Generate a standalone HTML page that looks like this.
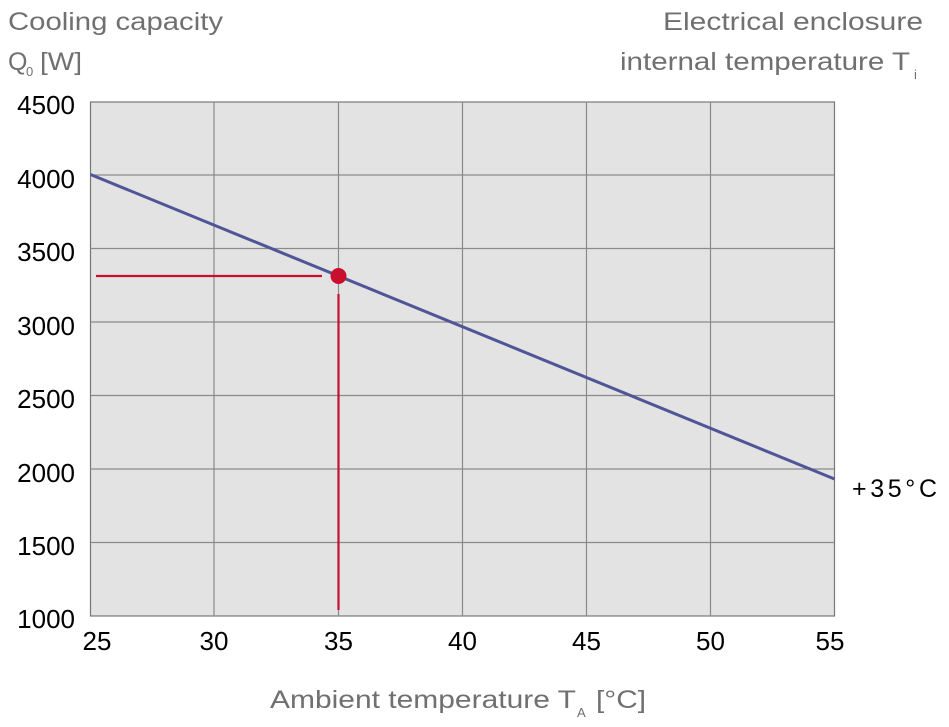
<!DOCTYPE html>
<html><head><style>html,body{margin:0;padding:0;background:#fff;}svg{display:block}</style></head>
<body>
<svg width="949" height="727" xmlns="http://www.w3.org/2000/svg" font-family="Liberation Sans, sans-serif">
<rect x="90.5" y="102" width="744" height="514" fill="#e3e3e3" stroke="#777" stroke-width="1.2"/>
<g stroke="#8a8a8a" stroke-width="1.2">
<line x1="214" y1="102" x2="214" y2="616"/>
<line x1="338.5" y1="102" x2="338.5" y2="616"/>
<line x1="462.5" y1="102" x2="462.5" y2="616"/>
<line x1="586.5" y1="102" x2="586.5" y2="616"/>
<line x1="710.5" y1="102" x2="710.5" y2="616"/>
<line x1="90.5" y1="175" x2="834.5" y2="175"/>
<line x1="90.5" y1="248.5" x2="834.5" y2="248.5"/>
<line x1="90.5" y1="322" x2="834.5" y2="322"/>
<line x1="90.5" y1="395.5" x2="834.5" y2="395.5"/>
<line x1="90.5" y1="469" x2="834.5" y2="469"/>
<line x1="90.5" y1="542.5" x2="834.5" y2="542.5"/>
</g>
<line x1="90.5" y1="174.5" x2="834.5" y2="479" stroke="#4f5596" stroke-width="3"/>
<line x1="96" y1="276" x2="322" y2="276" stroke="#c8102e" stroke-width="2.2"/>
<line x1="338.5" y1="294" x2="338.5" y2="610" stroke="#c8102e" stroke-width="2.2"/>
<circle cx="338.5" cy="276" r="8" fill="#c8102e"/>
<g font-size="26" fill="#000" text-anchor="end">
<text x="75" y="114">4500</text>
<text x="75" y="188">4000</text>
<text x="75" y="261">3500</text>
<text x="75" y="335">3000</text>
<text x="75" y="408">2500</text>
<text x="75" y="482">2000</text>
<text x="75" y="555">1500</text>
<text x="75" y="628">1000</text>
</g>
<g font-size="26" fill="#000" text-anchor="middle">
<text x="97" y="650">25</text>
<text x="214" y="650">30</text>
<text x="338.5" y="650">35</text>
<text x="462.5" y="650">40</text>
<text x="586.5" y="650">45</text>
<text x="710.5" y="650">50</text>
<text x="830" y="650">55</text>
</g>
<text x="852" y="497" font-size="25" fill="#000" textLength="85" lengthAdjust="spacing">+35°C</text>
<g font-size="25" fill="#707070">
<text x="8" y="30" textLength="215" lengthAdjust="spacingAndGlyphs">Cooling capacity</text>
<text x="8" y="70">Q</text><text x="26" y="76" font-size="13">0</text><text x="40" y="70" textLength="42" lengthAdjust="spacingAndGlyphs">[W]</text>
<text x="663" y="30" textLength="260" lengthAdjust="spacingAndGlyphs">Electrical enclosure</text>
<text x="620" y="70" textLength="290" lengthAdjust="spacingAndGlyphs">internal temperature T</text>
<text x="914" y="79" font-size="13">i</text>
<text x="270" y="708" textLength="306" lengthAdjust="spacingAndGlyphs">Ambient temperature T</text>
<text x="577" y="717" font-size="13">A</text>
<text x="596" y="708" textLength="50" lengthAdjust="spacingAndGlyphs">[°C]</text>
</g>
</svg>
</body></html>
